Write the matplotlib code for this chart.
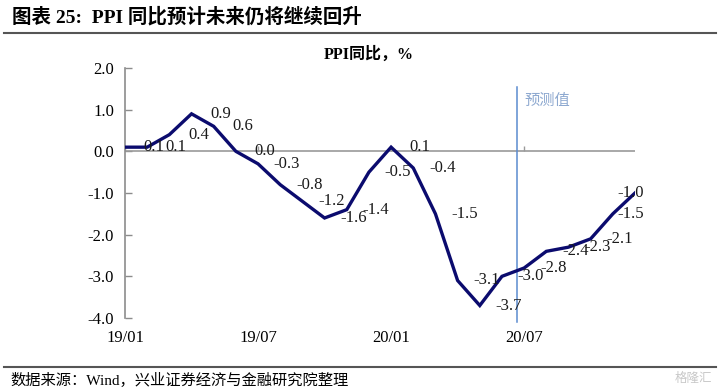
import numpy as np
import matplotlib.pyplot as plt

plt.rcParams['font.family'] = ['Liberation Serif', 'Noto Sans CJK SC']

months = ['19/01', '19/02', '19/03', '19/04', '19/05', '19/06', '19/07', '19/08',
          '19/09', '19/10', '19/11', '19/12', '20/01', '20/02', '20/03', '20/04',
          '20/05', '20/06', '20/07', '20/08', '20/09', '20/10', '20/11', '20/12']
ppi_yoy = [0.1, 0.1, 0.4, 0.9, 0.6, 0.0, -0.3, -0.8, -1.2, -1.6, -1.4, -0.5,
           0.1, -0.4, -1.5, -3.1, -3.7, -3.0, -2.8, -2.4, -2.3, -2.1, -1.5, -1.0]
tick_labels = ['19/01', '19/07', '20/01', '20/07']
forecast_start = 17.7

fig = plt.figure(figsize=(7.2, 3.88), dpi=100)
ax = fig.add_axes([125 / 720, 1 - 318 / 388, 510 / 720, 250 / 388])

x = np.arange(len(months))
ax.plot(x, ppi_yoy, color='#0B0B6E', lw=2.4, solid_joinstyle='miter', zorder=4)

ax.set_xlim(0, len(months) - 1)
ax.set_ylim(-4, 2)
ax.set_yticks(np.arange(-4, 2.1, 1.0))
ax.set_yticklabels(['%.1f' % v for v in np.arange(-4, 2.1, 1.0)])
ax.tick_params(axis='y', direction='in', length=5, width=1, color='#8c8c8c',
               labelsize=12, pad=8)

tick_pos = [months.index(t) for t in tick_labels]
ax.set_xticks(tick_pos)
ax.set_xticklabels(tick_labels)
ax.tick_params(axis='x', length=0, labelsize=12, pad=9)

for s in ['top', 'right', 'bottom']:
    ax.spines[s].set_visible(False)
ax.spines['left'].set_color('#8c8c8c')
ax.spines['left'].set_linewidth(1.2)

# zero line with small ticks
ax.axhline(0, color='#9a9a9a', lw=1.2, zorder=2)
ax.vlines(tick_pos, 0, 0.12, color='#9a9a9a', lw=1, zorder=2)

# forecast marker
ax.plot([forecast_start, forecast_start], [-4.1, 1.55], color='#5B8BD0', lw=1.1,
        clip_on=False, zorder=3)
ax.text(forecast_start + 0.3, 1.23, '预测值', color='#8EA9D0', fontsize=11,
        ha='left', va='center', family=['Noto Sans CJK SC'])

# data labels to the right, kept inside the chart area
fig.canvas.draw()
for i, v in enumerate(ppi_yoy):
    px = ax.transData.transform((i, v))[0]
    dx = min(29, 631 - px)
    ax.annotate('%.1f' % v, xy=(i, v), xytext=(dx * 0.72, 0), textcoords='offset points',
                ha='center', va='center', fontsize=12, color='#1a1a1a', zorder=5)

fig.text(369 / 720, 1 - 55 / 388, 'PPI同比，%', ha='center', va='center',
         fontsize=11.5, fontweight='bold')

fig.text(12 / 720, 1 - 17 / 388, '图表 25:  PPI 同比预计未来仍将继续回升', ha='left',
         va='center', fontsize=14, fontweight='bold')
fig.add_artist(plt.Line2D([4 / 720, 716 / 720], [1 - 33 / 388, 1 - 33 / 388],
                          color='#555555', lw=1.5))
fig.add_artist(plt.Line2D([4 / 720, 716 / 720], [1 - 367 / 388, 1 - 367 / 388],
                          color='#555555', lw=1.5))
fig.text(10 / 720, 1 - 380 / 388, '数据来源：Wind，兴业证券经济与金融研究院整理',
         ha='left', va='center', fontsize=11)
fig.text(712 / 720, 1 - 378 / 388, '格隆汇', ha='right', va='center', fontsize=9,
         color='#c8c8c8', family=['Noto Sans CJK SC'])

fig.savefig('out.png', dpi=100)
